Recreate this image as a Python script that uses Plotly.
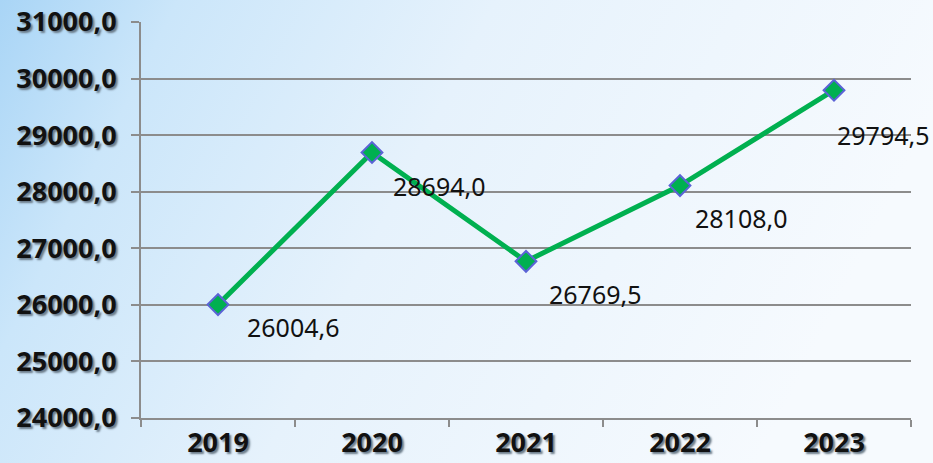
import base64
import plotly.graph_objects as go

# ---- data ----
years = ["2019", "2020", "2021", "2022", "2023"]
values = [26004.6, 28694.0, 26769.5, 28108.0, 29794.5]
y_ticks = [24000, 25000, 26000, 27000, 28000, 29000, 30000, 31000]

# label offsets in pixels (dx, dy) relative to each point
label_dx = [27, 19, 21, 13, 1]
label_dy = [-22, -34, -33, -32, -45]

W, H = 933, 463
L, R, T, B = 141, 22, 22, 45
pw, ph = W - L - R, H - T - B

svg = f'''<svg xmlns="http://www.w3.org/2000/svg" width="{W}" height="{H}" preserveAspectRatio="none">
<defs><linearGradient id="g" x1="0" y1="0" x2="1" y2="0.25">
<stop offset="0" stop-color="#a9d5f6"/>
<stop offset="0.18" stop-color="#cbe6fa"/>
<stop offset="0.5" stop-color="#e6f2fc"/>
<stop offset="1" stop-color="#f6fafe"/>
</linearGradient></defs>
<rect width="{W}" height="{H}" fill="url(#g)"/></svg>'''
src = "data:image/svg+xml;base64," + base64.b64encode(svg.encode()).decode()

fig = go.Figure()
fig.add_trace(go.Scatter(
    x=years, y=values, mode="lines+markers",
    line=dict(color="#00b050", width=5),
    marker=dict(symbol="diamond", size=16, color="#00b050",
                line=dict(color="#5b63d6", width=2)),
    hoverinfo="skip", showlegend=False,
))

tick_font = dict(family="Open Sans", size=27, color="#111111",
                 weight="bold", shadow="2px 2px 2px #6a7a88")

annotations = []
for i, (v, dx, dy) in enumerate(zip(values, label_dx, label_dy)):
    annotations.append(dict(
        x=i, y=v, xref="x", yref="y", text=f"{v:.1f}".replace(".", ","),
        showarrow=False, xanchor="left", yanchor="middle",
        xshift=dx, yshift=dy,
        font=dict(family="Noto Sans", size=25, color="#111111"),
    ))

fig.update_layout(
    width=W, height=H,
    margin=dict(l=L, r=R, t=T, b=B, pad=0, autoexpand=False),
    paper_bgcolor="white", plot_bgcolor="rgba(0,0,0,0)",
    separators=",.",
    annotations=annotations,
    images=[dict(
        source=src, xref="paper", yref="paper",
        x=-L / pw, y=1 + T / ph, sizex=W / pw, sizey=H / ph,
        xanchor="left", yanchor="top", sizing="stretch", layer="below",
    )],
    xaxis=dict(
        type="category", tickson="boundaries", ticks="outside", ticklen=7,
        tickcolor="#8c8c8c", tickwidth=2, showgrid=False,
        showline=True, linecolor="#8c8c8c", linewidth=2,
        tickfont=tick_font, range=[-0.5, 4.5], automargin=False,
    ),
    yaxis=dict(
        range=[24000, 31000], tickvals=y_ticks, tickformat=".1f",
        ticks="outside", ticklen=8, tickcolor="#8c8c8c", tickwidth=2,
        showgrid=True, gridcolor="#8c8c8c", gridwidth=2,
        showline=True, linecolor="#8c8c8c", linewidth=2,
        tickfont=tick_font, zeroline=False, automargin=False,
        ticklabelstandoff=9,
    ),
)

fig.write_html("out.html", config={"displayModeBar": False},
               post_script="document.body.style.margin='0';")
